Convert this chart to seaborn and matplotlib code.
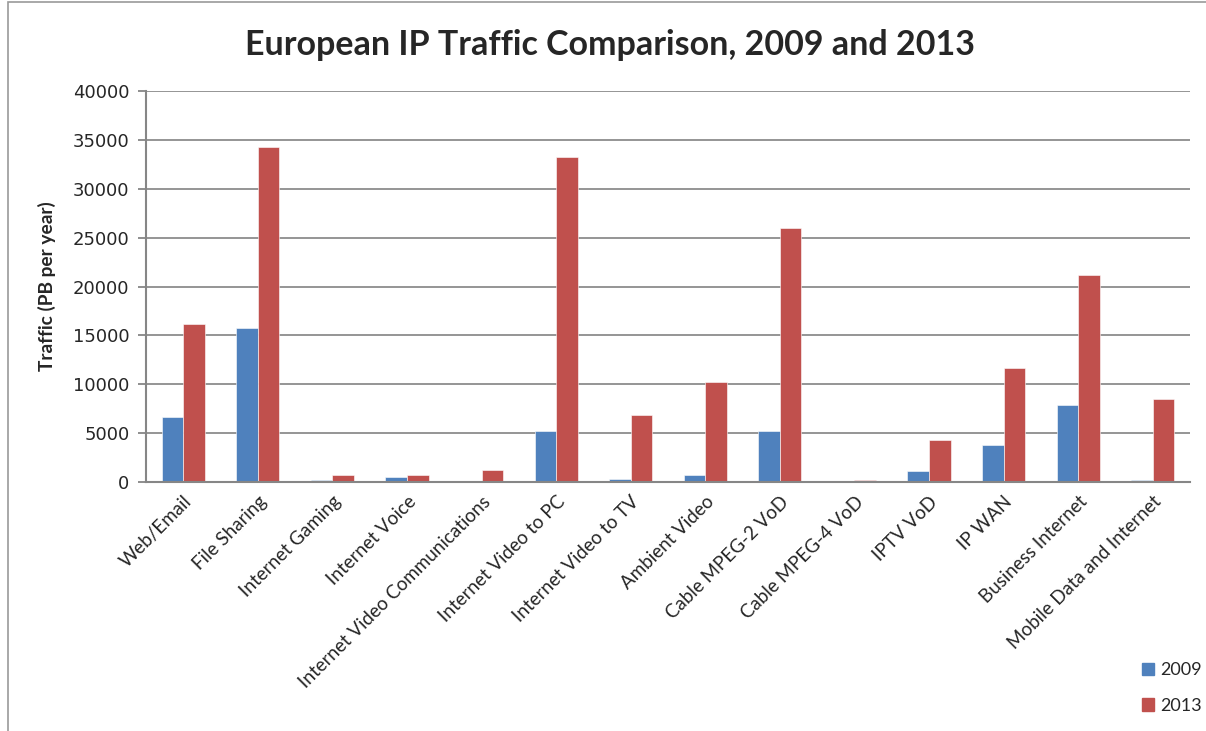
import matplotlib
matplotlib.use("Agg")
import matplotlib.pyplot as plt
import matplotlib.patches as mpatches
import seaborn as sns
import pandas as pd
import numpy as np

categories = ["Web/Email", "File Sharing", "Internet Gaming", "Internet Voice",
              "Internet Video Communications", "Internet Video to PC",
              "Internet Video to TV", "Ambient Video", "Cable MPEG-2 VoD",
              "Cable MPEG-4 VoD", "IPTV VoD", "IP WAN", "Business Internet",
              "Mobile Data and Internet"]
traffic_2009 = [6700, 15800, 170, 520, 30, 5240, 340, 690, 5240, 20, 1150, 3810, 7840, 200]
traffic_2013 = [16150, 34250, 690, 690, 1180, 33250, 6870, 10200, 26000, 200, 4270, 11650, 21200, 8450]
years = ["2009", "2013"]
y_ticks = [0, 5000, 10000, 15000, 20000, 25000, 30000, 35000, 40000]

df = pd.DataFrame({
    "category": categories * 2,
    "traffic": traffic_2009 + traffic_2013,
    "year": [years[0]] * len(categories) + [years[1]] * len(categories),
})

blue = "#4F81BD"
red = "#C0504D"

sns.set_style("white")
plt.rcParams['font.family'] = ['DejaVu Sans']

W, H = 1206, 731
fig = plt.figure(figsize=(W / 100, H / 100), dpi=100)
ax = fig.add_axes([146 / W, 1 - 482 / H, (1190 - 146) / W, (482 - 91) / H])

sns.barplot(data=df, x="category", y="traffic", hue="year", palette=[blue, red],
            width=0.58, gap=0, saturation=1, legend=False, ax=ax,
            edgecolor="white", linewidth=0.4, errorbar=None)

ax.set_ylim(0, 40000)
ax.set_xlim(-0.5, len(categories) - 0.5)
ax.set_yticks(y_ticks)
ax.set_yticklabels([str(t) for t in y_ticks], fontsize=13)
ax.yaxis.grid(True, color="#8c8c8c", linewidth=1.3)
ax.set_axisbelow(True)

ax.set_xticks(range(len(categories)))
ax.set_xticklabels(categories, rotation=45, ha="right", rotation_mode="anchor",
                   fontsize=13.5, fontfamily="Lato")
ax.tick_params(axis="x", length=0, pad=8)
ax.set_xticks(np.arange(-0.5, len(categories)), minor=True)
ax.tick_params(axis="x", which="minor", length=6, width=1.3, color="#868686", direction="out")
ax.tick_params(axis="y", length=6, width=1.3, color="#868686", direction="out", left=True, pad=6)

for s in ["top", "right"]:
    ax.spines[s].set_visible(False)
for s in ["left", "bottom"]:
    ax.spines[s].set_color("#868686")
    ax.spines[s].set_linewidth(1.5)

ax.set_xlabel("")
ax.set_ylabel("Traffic (PB per year)", fontsize=13.8, fontweight="bold", fontfamily="Lato", labelpad=12)

fig.text(610 / W, 1 - 45 / H, "European IP Traffic Comparison, 2009 and 2013",
         ha="center", va="center", fontsize=24.5, fontweight="bold", fontfamily="Lato")

handles = [mpatches.Patch(color=blue, label=years[0]), mpatches.Patch(color=red, label=years[1])]
fig.legend(handles=handles, loc="center left", bbox_to_anchor=(1142 / W, 1 - 688 / H),
           frameon=False, handlelength=0.67, handleheight=0.67,
           labelspacing=1.1, handletextpad=0.35, borderpad=0, borderaxespad=0,
           prop={"family": "Lato", "size": 13})

border = mpatches.Rectangle((8 / W, -0.05), 1.2, 1 - 2 / H + 0.05, transform=fig.transFigure,
                            fill=False, edgecolor="#9a9a9a", linewidth=1.2)
fig.patches.append(border)

fig.savefig("out.png", dpi=100, facecolor="white")
